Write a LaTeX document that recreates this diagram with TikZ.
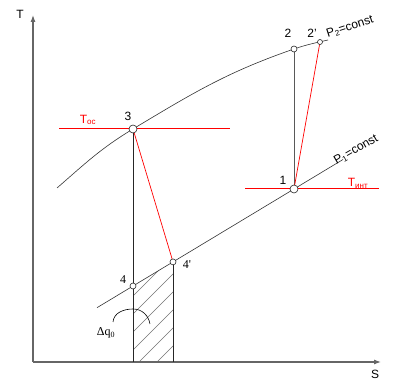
\documentclass[tikz,border=0pt]{standalone}
\usepackage{xcolor}
\usepackage{fontspec}
\setmainfont{Liberation Sans}
\newfontfamily\timesfont{Liberation Serif}
\usetikzlibrary{arrows.meta}

\tikzset{
  axis/.style={draw=black!60, line width=1.1pt, -{Latex[length=7pt,width=5pt]}},
  isobar/.style={draw=black!80, line width=0.6pt},
  process/.style={draw=black!85, line width=0.8pt},
  real/.style={draw=red, line width=0.7pt},
  level/.style={draw=red, line width=1pt},
  hatch/.style={draw=black!55, line width=0.5pt},
  dot/.style={circle, draw=black!85, fill=white, line width=0.6pt, inner sep=0pt, minimum size=#1},
  dot/.default=6pt,
  lbl/.style={inner sep=1pt}
}

\begin{document}
\begin{tikzpicture}[x=1pt,y=1pt,font=\fontsize{12}{14}\selectfont]
          \useasboundingbox (0,0) rectangle (401,390);

          \coordinate (O) at (33,28);
          \coordinate (Ttop) at (33,375);
          \coordinate (Send) at (381,28);

          \coordinate (p1) at (294,201);
          \coordinate (p2) at (294,341);
          \coordinate (p2r) at (320,348);
          \coordinate (p3) at (133,261);
          \coordinate (p4) at (133,104);
          \coordinate (p4r) at (173,128.1);
          \coordinate (f3) at (133,28);
          \coordinate (f4r) at (173,28);

          \coordinate (hiA) at (57,202);
          \coordinate (hiB) at (328,350);
          \coordinate (loA) at (97,82.3);
          \coordinate (loB) at (343,230.5);

          % hatched area q0
          \begin{scope}
            \clip (p4) -- (p4r) -- (f4r) -- (f3) -- cycle;
            \foreach \c in {-39,-57,...,-147}
              \draw[hatch] (120,120+\c) -- (190,190+\c);
          \end{scope}

          \draw[axis] (O) -- (Ttop);
          \draw[axis] (O) -- (Send);

          % isobars
          \draw[isobar] (hiA) to[out=41,in=211] (p3) to[out=31,in=199] (p2) to[out=19,in=193] (hiB);
          \draw[isobar] (loA) -- (loB);

          % temperature levels
          \draw[level] (59,261) -- (230,261);
          \draw[level] (245,201) -- (379,201);

          % cycle
          \draw[process] (p3) -- (f3);
          \draw[process] (p4r) -- (f4r);
          \draw[process, draw=black!65] (p1) -- (p2);
          \draw[real] (p1) -- (p2r);
          \draw[real] (p3) -- (p4r);

          \draw[isobar, draw=black] (113,68) to[out=85,in=180] (133,81) to[out=0,in=100] (150,66);

          \node[dot=8pt] (d1) at (p1) {};
          \node[dot] (d2) at (p2) {};
          \node[dot=5pt] (d2r) at (p2r) {};
          \node[dot=8pt] (d3) at (p3) {};
          \node[dot] (d4) at (p4) {};
          \node[dot] (d4r) at (p4r) {};

          \node[lbl] (lT) at (20,376) {T};
          \node[lbl] (lS) at (375,16) {S};
          \node[lbl] (l1) at (283,210) {1};
          \node[lbl] (l2) at (288,357) {2};
          \node[lbl] (l2r) at (312,357) {2'};
          \node[lbl] (l3) at (128,274) {3};
          \node[lbl] (l4) at (123,110) {\timesfont 4};
          \node[lbl] (l4r) at (187,125) {\timesfont 4'};
          \node[lbl, text=red] (lToc) at (88,270) {T\textsubscript{oc}};
          \node[lbl, text=red] (lTint) at (358,207) {T\textsubscript{инт}};
          \node[lbl] (lq0) at (106,57) {\timesfont Δq\textsubscript{0}};
          \node[lbl, rotate=30] (lP1) at (356,240) {P\textsubscript{1}=const};
          \node[lbl, rotate=18] (lP2) at (350,363) {P\textsubscript{2}=const};

          \end{tikzpicture}
\end{document}
